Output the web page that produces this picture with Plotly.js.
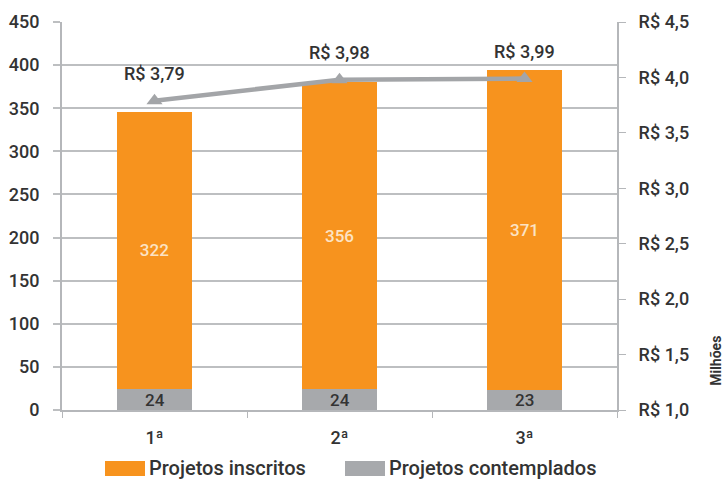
<!DOCTYPE html>
<html>
<head>
<meta charset="utf-8">
<script src="https://cdn.plot.ly/plotly-3.0.1.min.js"></script>
<style>html,body{margin:0;padding:0;background:#fff}#chart{width:727px;height:481px}</style>
</head>
<body>
<div id="chart"></div>
<script>
const categories = ['1ª', '2ª', '3ª'];
const inscritos = [322, 356, 371];
const contemplados = [24, 24, 23];
const valores = [3.79, 3.98, 3.99];
const valorLabels = ['R$ 3,79', 'R$ 3,98', 'R$ 3,99'];
const leftTicks = [0, 50, 100, 150, 200, 250, 300, 350, 400, 450];
const rightTicks = [1.0, 1.5, 2.0, 2.5, 3.0, 3.5, 4.0, 4.5];
const rightTickText = ['R$ 1,0', 'R$ 1,5', 'R$ 2,0', 'R$ 2,5', 'R$ 3,0', 'R$ 3,5', 'R$ 4,0', 'R$ 4,5'];
const seriesNames = ['Projetos inscritos', 'Projetos contemplados'];

const ORANGE = '#F7931E';
const GRAY = '#A7A9AC';
const LINEGRAY = '#A3A5A8';
const TXT = '#333333';
const FONT = 'Roboto, "Liberation Sans", sans-serif';

const traces = [
  {
    type: 'bar', x: categories, y: contemplados, name: seriesNames[1],
    marker: {color: GRAY}, width: 0.405, hoverinfo: 'none'
  },
  {
    type: 'bar', x: categories, y: inscritos, name: seriesNames[0],
    marker: {color: ORANGE}, width: 0.405,
    text: inscritos.map(String), textposition: 'inside', insidetextanchor: 'middle',
    constraintext: 'none',
    textfont: {family: FONT, size: 17, weight: 500, color: '#FCE3C4'}, hoverinfo: 'none'
  },
  {
    type: 'scatter', mode: 'lines+markers', x: categories, y: valores, yaxis: 'y2',
    line: {color: LINEGRAY, width: 4.5},
    marker: {symbol: 'triangle-up', size: 14, color: LINEGRAY},
    hoverinfo: 'none', showlegend: false
  }
];

const annotations = valores.map((v, i) => ({
  x: categories[i], y: v, xref: 'x', yref: 'y2', text: valorLabels[i],
  showarrow: false, yshift: 27, font: {family: FONT, size: 18, weight: 500, color: TXT}
}));
contemplados.forEach((v, i) => annotations.push({
  x: categories[i], y: v / 2, xref: 'x', yref: 'y', text: String(v),
  showarrow: false, yanchor: 'middle', font: {family: FONT, size: 17, weight: 500, color: TXT}
}));
annotations.push({
  xref: 'paper', yref: 'paper', x: 1.197, y: 0.058, text: '<b>Milhões</b>',
  textangle: -90, showarrow: false, font: {family: FONT, size: 14, color: TXT}
});
// custom legend
const legendItems = [
  {name: seriesNames[0], color: ORANGE, x0: 105, x1: 145},
  {name: seriesNames[1], color: GRAY, x0: 345, x1: 385}
];
const shapes = [];
legendItems.forEach(it => {
  shapes.push({
    type: 'rect', xref: 'paper', yref: 'paper',
    x0: (it.x0 - 62) / 555, x1: (it.x1 - 62) / 555,
    y0: (410 - 476) / 388, y1: (410 - 461) / 388,
    fillcolor: it.color, line: {width: 0}
  });
  annotations.push({
    xref: 'paper', yref: 'paper', x: (it.x1 + 2 - 62) / 555, y: (410 - 468) / 388,
    xanchor: 'left', yanchor: 'middle', text: it.name, showarrow: false,
    font: {family: FONT, size: 20, weight: 500, color: TXT}
  });
});

const layout = {
  width: 727, height: 481,
  margin: {l: 62, r: 110, t: 22, b: 71},
  paper_bgcolor: '#fff', plot_bgcolor: '#fff',
  barmode: 'stack', showlegend: false,
  font: {family: FONT, color: TXT},
  xaxis: {
    type: 'category', showgrid: false, zeroline: false,
    showline: true, linecolor: '#B5B7BA', linewidth: 2,
    ticks: 'outside', tickson: 'boundaries', ticklen: 6, tickcolor: '#B5B7BA', tickwidth: 1,
    tickfont: {family: FONT, size: 18, weight: 500, color: TXT}, ticklabelstandoff: 10
  },
  yaxis: {
    range: [0, 450], tickvals: leftTicks, showgrid: true, gridcolor: '#BDBFC1', gridwidth: 2,
    zeroline: false, showline: true, linecolor: '#B5B7BA', linewidth: 2,
    ticks: 'outside', ticklen: 7, tickcolor: '#BDBFC1', tickwidth: 2,
    tickfont: {family: FONT, size: 18, weight: 500, color: TXT}, ticklabelstandoff: 10
  },
  yaxis2: {
    range: [1.0, 4.5], tickvals: rightTicks, ticktext: rightTickText,
    overlaying: 'y', side: 'right', showgrid: false, zeroline: false,
    showline: true, linecolor: '#B5B7BA', linewidth: 2,
    ticks: 'outside', ticklen: 7, tickcolor: '#B5B7BA', tickwidth: 1,
    tickfont: {family: FONT, size: 18, weight: 500, color: TXT}, ticklabelstandoff: 9
  },
  annotations: annotations,
  shapes: shapes
};

Plotly.newPlot('chart', traces, layout, {displayModeBar: false, staticPlot: true});
</script>
</body>
</html>
